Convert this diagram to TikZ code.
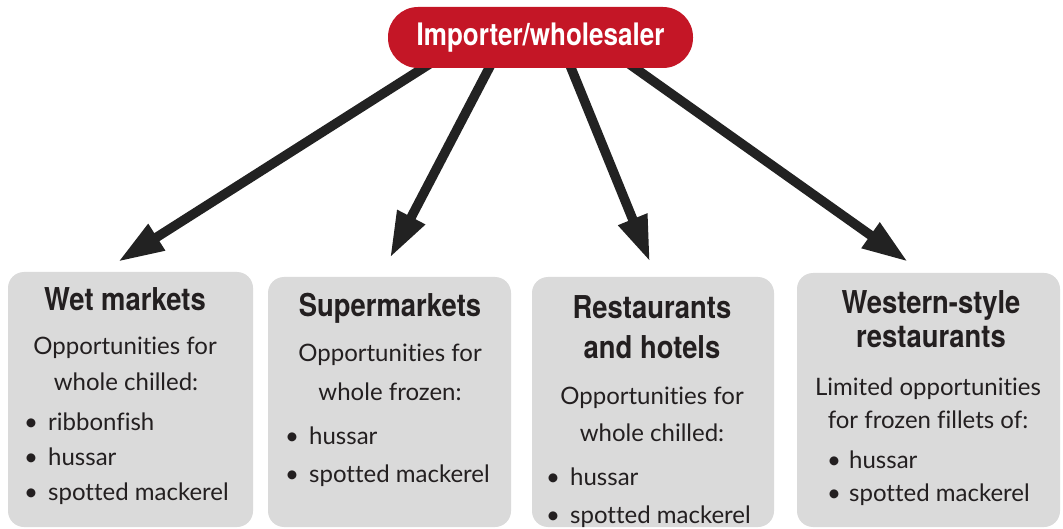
\documentclass[tikz,border=0pt]{standalone}
\usepackage{fontspec}
\setmainfont{Lato}[Ligatures={NoCommon}]
\newfontfamily\headfont[FakeStretch=0.87]{TeX Gyre Heros}
\newfontfamily\impfont[FakeStretch=0.84]{TeX Gyre Heros}
\usetikzlibrary{arrows.meta,calc,backgrounds}
\definecolor{impred}{RGB}{196,22,38}
\definecolor{boxgrey}{RGB}{218,218,218}
\definecolor{inkblack}{RGB}{35,31,32}
\definecolor{arrowblack}{RGB}{34,34,34}
\begin{document}
\begin{tikzpicture}[x=1pt,y=-1pt,
  catbox/.style={fill=boxgrey, rounded corners=16pt, inner sep=0pt, draw=none},
  headtxt/.style={font=\headfont\bfseries\fontsize{31.5}{36}\selectfont, text=inkblack, inner sep=0pt, anchor=base},
  bodytxt/.style={font=\fontsize{24}{28}\selectfont, text=inkblack, inner sep=0pt, anchor=base},
  itemtxt/.style={bodytxt, anchor=base west},
  flow/.style={line width=9.5pt, draw=arrowblack, -{Triangle[length=46pt,width=29pt]}},
]
\path[use as bounding box] (0,0) rectangle (1063,529);

% top node
\node[fill=impred, rounded corners=30pt, minimum width=305pt, minimum height=61pt, inner sep=0pt,
  font=\impfont\bfseries\fontsize{31}{36}\selectfont, text=white] (imp) at (540.5,37.5) {Importer/wholesaler};

% category boxes
\node[catbox, minimum width=245pt, minimum height=255pt] (b1) at (130.5,399.5) {};
\node[catbox, minimum width=243pt, minimum height=250pt] (b2) at (389.5,402) {};
\node[catbox, minimum width=242pt, minimum height=250pt] (b3) at (653,402) {};
\node[catbox, minimum width=263pt, minimum height=254pt] (b4) at (928.5,400) {};

% box 1
\node[headtxt] (h1) at (125,311) {Wet markets};
\node[bodytxt] (t1a) at (125,355) {Opportunities for};
\node[bodytxt] (t1b) at (126,390) {whole chilled:};
\node[itemtxt] (i1a) at (24,430) {\makebox[24pt][l]{\textbullet}ribbonfish};
\node[itemtxt] (i1b) at (24,465) {\makebox[24pt][l]{\textbullet}hussar};
\node[itemtxt] (i1c) at (24,500) {\makebox[24pt][l]{\textbullet}spotted mackerel};

% box 2
\node[headtxt] (h2) at (390,317) {Supermarkets};
\node[bodytxt] (t2a) at (390,362) {Opportunities for};
\node[bodytxt] (t2b) at (390,400) {whole frozen:};
\node[itemtxt] (i2a) at (285,444) {\makebox[24pt][l]{\textbullet}hussar};
\node[itemtxt] (i2b) at (285,482) {\makebox[24pt][l]{\textbullet}spotted mackerel};

% box 3
\node[headtxt] (h3a) at (652,319) {Restaurants};
\node[headtxt] (h3b) at (652,358) {and hotels};
\node[bodytxt] (t3a) at (652,404) {Opportunities for};
\node[bodytxt] (t3b) at (652,441) {whole chilled:};
\node[itemtxt] (i3a) at (546,485) {\makebox[24pt][l]{\textbullet}hussar};
\node[itemtxt] (i3b) at (546,523) {\makebox[24pt][l]{\textbullet}spotted mackerel};

% box 4
\node[headtxt] (h4a) at (931,314) {Western-style};
\node[headtxt] (h4b) at (931,348) {restaurants};
\node[bodytxt] (t4a) at (928,395) {Limited opportunities};
\node[bodytxt] (t4b) at (928,428) {for frozen fillets of:};
\node[itemtxt] (i4a) at (827,468) {\makebox[22pt][l]{\textbullet}hussar};
\node[itemtxt] (i4b) at (827,501) {\makebox[22pt][l]{\textbullet}spotted mackerel};

% connectors
\begin{scope}[on background layer]
\draw[flow] ($(imp.south)+(-105,-8)$) -- ($(b1.north)+(-12.5,-10)$);
\draw[flow] ($(imp.south)+(-47.3,-8)$) -- ($(b2.north)+(0.5,-19)$);
\draw[flow] ($(imp.south)+(27.4,-8)$) -- ($(b3.north)+(-3,-15)$);
\draw[flow] ($(imp.south)+(83.4,-8)$) -- ($(b4.north)+(-20.5,-11)$);
\end{scope}
\end{tikzpicture}
\end{document}
